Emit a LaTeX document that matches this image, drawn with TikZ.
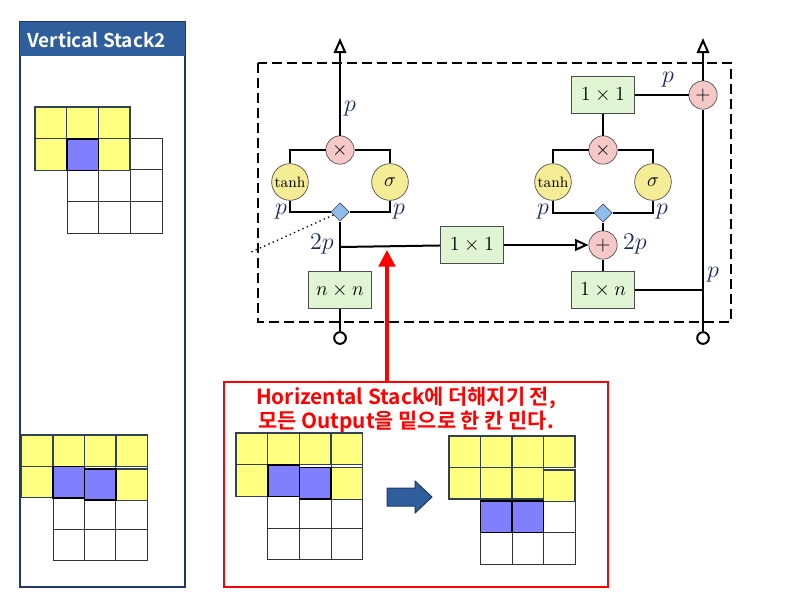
\documentclass[tikz,border=0pt]{standalone}
\usepackage{fontspec}
\usepackage{amsmath}
\usetikzlibrary{shapes.geometric}
\usetikzlibrary{arrows.meta}
\usetikzlibrary{positioning}
\newfontfamily\krfont{Noto Sans CJK KR Bold}
\definecolor{boxgreen}{HTML}{DFF5D3}
\definecolor{actyellow}{HTML}{F5EC96}
\definecolor{oppink}{HTML}{F7C8C8}
\definecolor{splitblue}{HTML}{8DBDEB}
\definecolor{labelblue}{HTML}{1A2A5A}
\definecolor{headblue}{HTML}{2E5E9B}
\definecolor{framenavy}{HTML}{1F3864}
\definecolor{cellyellow}{HTML}{FFFF80}
\definecolor{cellblue}{HTML}{8080FF}
\definecolor{celledge}{HTML}{334155}

\begin{document}
\begin{tikzpicture}[x=0.6pt, y=-0.6pt]
				\tikzstyle{convnode}=[draw=black!70, fill=boxgreen, minimum height=22pt, minimum width=38pt, inner sep=0pt, font=\large]
				\tikzstyle{actnode}=[draw=black!70, fill=actyellow, circle, minimum size=22pt, inner sep=0pt]
				\tikzstyle{opnode}=[draw=black!70, fill=oppink, circle, minimum size=17pt, inner sep=0pt, font=\large]
				\tikzstyle{splitnode}=[draw=black!70, fill=splitblue, diamond, minimum size=11pt, inner sep=0pt]
				\tikzstyle{portnode}=[draw=black, fill=white, circle, minimum size=7pt, inner sep=0pt, line width=1.2pt]
				\tikzstyle{dimlabel}=[text=labelblue, inner sep=1pt, font=\Large]
				\tikzstyle{wire}=[line width=1.2pt]
				\tikzstyle{wcell}=[draw=black!80, fill=white, line width=0.6pt]
				\tikzstyle{ycell}=[draw=celledge, fill=cellyellow, line width=0.8pt]
				\tikzstyle{bcell}=[draw=black, fill=cellblue, line width=1pt]
				
				\useasboundingbox (0,0) rectangle (800,600);
				
				% vertical stack panel
				\draw[framenavy, line width=1pt, fill=white] (20,22) rectangle (185,587);
				\fill[headblue] (20,22) rectangle (185,56);
				\node (title) at (27,40) [anchor=west, text=white, inner sep=0pt] {\fontsize{11.4}{13}\krfont Vertical Stack2};
				
				\foreach \i in {0,1,2} \foreach \j in {0,1,2}
					\draw[wcell] ({67+31.7*\i},{138+31.7*\j}) rectangle ++(31.7,31.7);
				\foreach \i in {0,1,2} \foreach \j in {0,1}
					\draw[ycell] ({35+31.7*\i},{107+31.7*\j}) rectangle ++(31.7,31.7);
				\draw[bcell] (66.7,138.7) rectangle ++(31.7,31.7);
				
				\foreach \i in {0,1,2} \foreach \j in {0,1,2}
					\draw[wcell] ({53.1+31.4*\i},{466.4+31.4*\j}) rectangle ++(31.4,31.4);
				\foreach \x/\y in {21.7/435,53.1/435,84.5/435,115.9/435,21.7/466.4,115.9/468.9}
					\draw[ycell] (\x,\y) rectangle ++(31.4,31.4);
				\foreach \x/\y in {53.1/466.4,84.5/468.9}
					\draw[bcell] (\x,\y) rectangle ++(31.4,31.4);
				
				% gated block
				\draw[dash pattern=on 6pt off 3pt, line width=1.2pt] (258,63) rectangle (731,322);
				
				\node (in1) at (340,338) [portnode] {};
				\node (nn) at (340,290) [convnode] {$n \times n$};
				\coordinate (j1) at (340,247);
				\node (d1) at (340,212) [splitnode] {};
				\node (th1) at (290,182) [actnode] {\small tanh};
				\node (sg1) at (390,182) [actnode] {\large $\sigma$};
				\node (m1) at (340,150) [opnode] {$\times$};
				\coordinate (out1) at (340,38);
				\coordinate (dot1) at (249,253);
				
				\node (c1) at (472,245) [convnode] {$1 \times 1$};
				
				\node (r1) at (603,290) [convnode] {$1 \times n$};
				\node (a2) at (603,245) [opnode] {$+$};
				\node (d2) at (603,213) [splitnode] {};
				\node (th2) at (553,182) [actnode] {\small tanh};
				\node (sg2) at (653,182) [actnode] {\large $\sigma$};
				\node (m2) at (603,150) [opnode] {$\times$};
				\node (c2) at (603,95) [convnode] {$1 \times 1$};
				
				\node (in2) at (703,338) [portnode] {};
				\coordinate (j2) at (703,290);
				\node (a3) at (703,95) [opnode] {$+$};
				\coordinate (out2) at (703,38);
				
				\draw[wire] (in1) -- (nn) -- (d1);
				\draw[wire] (d1.west) -| (th1.south);
				\draw[wire] (d1.east) -| (sg1.south);
				\draw[wire] (th1.north) |- (m1.west);
				\draw[wire] (sg1.north) |- (m1.east);
				\draw[wire, -{Triangle[open, length=9pt, width=7.5pt]}] (m1) -- (out1);
				\draw[dotted, line width=0.8pt] (d1) -- (dot1);
				\draw[wire] (j1) -- (c1);
				\draw[wire, -{Triangle[open, length=8pt, width=7pt]}] (c1) -- (a2);
				
				\draw[wire] (r1) -- (a2) -- (d2);
				\draw[wire] (d2.west) -| (th2.south);
				\draw[wire] (d2.east) -| (sg2.south);
				\draw[wire] (th2.north) |- (m2.west);
				\draw[wire] (sg2.north) |- (m2.east);
				\draw[wire] (m2) -- (c2);
				\draw[wire] (c2) -- (a3);
				\draw[wire] (r1) -- (j2);
				\draw[wire] (in2) -- (a3);
				\draw[wire, -{Triangle[open, length=9pt, width=7.5pt]}] (a3) -- (out2);
				
				\node (p1) at (350,109) [dimlabel] {$p$};
				\node (p2) at (281,212) [dimlabel] {$p$};
				\node (p3) at (399,212) [dimlabel] {$p$};
				\node (p4) at (322,244) [dimlabel] {$2p$};
				\node (p5) at (543,212) [dimlabel] {$p$};
				\node (p6) at (662,212) [dimlabel] {$p$};
				\node (p7) at (635,244) [dimlabel] {$2p$};
				\node (p8) at (668,80) [dimlabel] {$p$};
				\node (p9) at (713,275) [dimlabel] {$p$};
				
				% note box
				\draw[red, line width=1pt] (224,382) rectangle (608,587);
				\coordinate (notetop) at (387,382);
				\coordinate (pointer) at (387,250);
				\draw[red, line width=2pt, -{Triangle[length=10pt, width=10pt]}] (notetop) -- (pointer);
				\node (note) at (406,410) [text=red, align=center, inner sep=0pt, font=\fontsize{12.5}{14.5}\krfont] {Horizental Stack에 더해지기 전,\\모든 Output을 밑으로 한 칸 민다.};
				
				\foreach \i in {0,1,2} \foreach \j in {0,1,2}
					\draw[wcell] ({267.7+31.7*\i},{464.7+31.7*\j}) rectangle ++(31.7,31.7);
				\foreach \x/\y in {236/433,267.7/433,299.4/433,331.1/433,236/464.7,331.1/467.5}
					\draw[ycell] (\x,\y) rectangle ++(31.7,31.7);
				\foreach \x/\y in {267.7/464.7,299.4/467.5}
					\draw[bcell] (\x,\y) rectangle ++(31.7,31.7);
				
				\draw[fill=headblue, draw=framenavy, line width=0.6pt] (387,488) -- (415,488) -- (415,481) -- (432,497) -- (415,513) -- (415,506) -- (387,506) -- cycle;
				
				\foreach \i in {0,1,2} \foreach \j in {0,1,2}
					\draw[wcell] ({480.5+31.5*\i},{469.5+31.5*\j}) rectangle ++(31.5,31.5);
				\foreach \x/\y in {449/436,480.5/436,512/436,543.5/436,449/467.5,480.5/467.5,512/467.5,543.5/470}
					\draw[ycell] (\x,\y) rectangle ++(31.5,31.5);
				\foreach \x/\y in {480.5/501,512/501}
					\draw[bcell] (\x,\y) rectangle ++(31.5,31.5);
\end{tikzpicture}
\end{document}
